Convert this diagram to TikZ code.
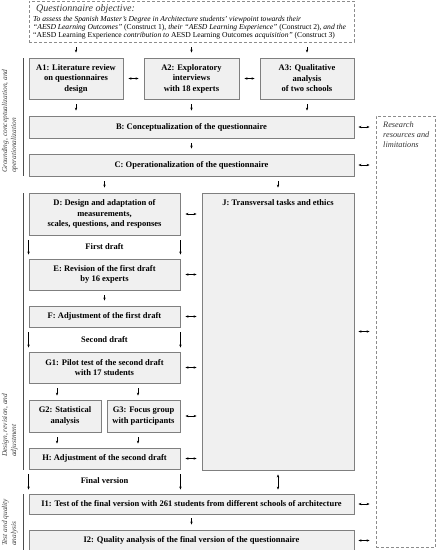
\documentclass[tikz,border=0pt]{standalone}
\usepackage{fontspec}
\setmainfont{Liberation Serif}
\usetikzlibrary{calc,arrows.meta}
\definecolor{boxfill}{HTML}{F0F0F0}
\definecolor{boxline}{HTML}{7F7F7F}
\definecolor{dashline}{HTML}{8C8C8C}
\begin{document}
\begin{tikzpicture}[x=1pt,y=-1pt,
  box/.style={draw=boxline, fill=boxfill, line width=0.9pt, inner sep=1pt, align=center,
    font=\fontsize{8.5}{10.5}\selectfont\bfseries},
  lbl/.style={inner sep=0pt, font=\fontsize{8.5}{10.5}\selectfont\bfseries},
  dashbox/.style={draw=dashline, line width=0.8pt, dash pattern=on 3pt off 2pt, inner sep=0pt},
  objline/.style={inner sep=0pt, anchor=base west, font=\fontsize{7.6}{8}\selectfont},
  side/.style={inner sep=0pt, rotate=90, anchor=south west, align=left, text=black!75,
    font=\fontsize{7.4}{9}\selectfont\itshape},
  bracket/.style={draw=black!70, line width=0.6pt},
  arr/.style={-{Stealth[length=3pt,width=2.4pt]}, line width=0.5pt},
  dbl/.style={{Stealth[length=3pt,width=2.4pt]}-{Stealth[length=3pt,width=2.4pt]}, line width=0.5pt},
]
\useasboundingbox (0,0) rectangle (436,550);

% objective
\node[dashbox, minimum width=325pt, minimum height=41pt] (obj) at (191.5,21.5) {};
\node[inner sep=0pt, anchor=base west, font=\fontsize{10}{10}\selectfont\itshape, text=black!80] (objt) at (36,11.5) {Questionnaire objective:};
\node[objline] (obj1) at (33,21) {\itshape To assess the Spanish Master's Degree in Architecture students' viewpoint towards their};
\node[objline] (obj2) at (33,29) {\itshape ``AESD Learning Outcomes'' \upshape(Construct 1), \itshape their ``AESD Learning Experience'' \upshape(Construct 2), \itshape and the};
\node[objline] (obj3) at (33,37) {\upshape ``AESD Learning Experience \itshape contribution to \upshape AESD Learning Outcomes \itshape acquisition'' \upshape(Construct 3)};

% research box
\node[dashbox, minimum width=59.5pt, minimum height=431pt] (res) at (405.75,331.5) {};
\node[inner sep=0pt, anchor=north west, align=left, font=\fontsize{8.3}{10}\selectfont\itshape, text=black!80] (rest) at (383,122) {Research\\resources and\\limitations};

% boxes
\node[box, minimum width=94pt, minimum height=41pt] (A1) at (76,78.5) {A1: Literature review\\on questionnaires\\design};
\node[box, minimum width=95pt, minimum height=41pt] (A2) at (191.5,78.5) {A2: Exploratory\\interviews\\with 18 experts};
\node[box, minimum width=94pt, minimum height=41pt] (A3) at (307,78.5) {A3: Qualitative\\analysis\\of two schools};
\node[box, minimum width=325pt, minimum height=22pt] (B) at (191.5,127) {B: Conceptualization of the questionnaire};
\node[box, minimum width=325pt, minimum height=22pt] (C) at (191.5,165) {C: Operationalization of the questionnaire};
\node[box, minimum width=151pt, minimum height=42pt] (D) at (104.5,214) {D: Design and adaptation of\\measurements,\\scales, questions, and responses};
\node[box, minimum width=152pt, minimum height=277pt,
  label={[lbl, anchor=north, yshift=-7pt]north:{J: Transversal tasks and ethics}}] (J) at (278,331.5) {};
\node[lbl] (fd) at (104.5,247) {First draft};
\node[box, minimum width=151pt, minimum height=31pt] (E) at (104.5,274.5) {E: Revision of the first draft\\by 16 experts};
\node[box, minimum width=151pt, minimum height=21pt] (F) at (104.5,316.5) {F: Adjustment of the first draft};
\node[lbl] (sd) at (104.5,340) {Second draft};
\node[box, minimum width=151pt, minimum height=31pt] (G1) at (104.5,367.5) {G1: Pilot test of the second draft\\with 17 students};
\node[box, minimum width=72pt, minimum height=32pt] (G2) at (65,416) {G2: Statistical\\analysis};
\node[box, minimum width=73pt, minimum height=32pt] (G3) at (143.5,416) {G3: Focus group\\with participants};
\node[box, minimum width=151pt, minimum height=21pt] (H) at (104.5,458.5) {H: Adjustment of the second draft};
\node[lbl] (fv) at (104.5,481) {Final version};
\node[box, minimum width=325pt, minimum height=20pt] (I1) at (191.5,504) {I1: Test of the final version with 261 students from different schools of architecture};
\node[box, minimum width=325pt, minimum height=21pt] (I2) at (191.5,540.5) {I2: Quality analysis of the final version of the questionnaire};

% side labels
\draw[bracket] (23,58) -- (23,176);
\draw[bracket] (23,193) -- (23,470);
\draw[bracket] (23,494) -- (23,550);
\node[side] (s1) at (18,173) {Grounding, conceptualization, and\\operationalization};
\node[side] (s2) at (18,457) {Design, revision, and\\adjustment};
\node[side] (s3) at (18,546) {Test and quality\\analysis};

% helper coordinates for G2/G3 arrows
\coordinate (g2t) at ($(G2.north)+(-8,0)$);
\coordinate (g3t) at ($(G3.north)+(-5.5,0)$);
\coordinate (g2b) at ($(G2.south)+(-8,0)$);
\coordinate (g3b) at ($(G3.south)+(-5.5,0)$);

% arrows from objective
\draw[arr, shorten <=5pt, shorten >=5pt] (A1.north |- obj.south) -- (A1.north);
\draw[arr, shorten <=5pt, shorten >=5pt] (A2.north |- obj.south) -- (A2.north);
\draw[arr, shorten <=5pt, shorten >=5pt] (A3.north |- obj.south) -- (A3.north);
% between A
\draw[dbl, shorten <=5pt, shorten >=5pt] (A1.east) -- (A2.west);
\draw[dbl, shorten <=5pt, shorten >=5pt] (A2.east) -- (A3.west);
% A to B
\draw[arr, shorten <=5pt, shorten >=5pt] (A1.south) -- (A1.south |- B.north);
\draw[arr, shorten <=5pt, shorten >=5pt] (A2.south) -- (A2.south |- B.north);
\draw[arr, shorten <=5pt, shorten >=5pt] (A3.south) -- (A3.south |- B.north);
% B to C
\draw[arr, shorten <=5pt, shorten >=5pt] (B.south) -- (C.north);
% C to D, J
\draw[arr, shorten <=5pt, shorten >=5pt] (D.north |- C.south) -- (D.north);
\draw[arr, shorten <=5pt, shorten >=5pt] (J.north |- C.south) -- (J.north);
% to research box
\draw[dbl, shorten <=4pt, shorten >=6pt] (B.east) -- (B.east -| res.west);
\draw[dbl, shorten <=4pt, shorten >=6pt] (C.east) -- (C.east -| res.west);
\draw[dbl, shorten <=4pt, shorten >=6pt] (J.east) -- (J.east -| res.west);
\draw[dbl, shorten <=4pt, shorten >=6pt] (I1.east) -- (I1.east -| res.west);
\draw[dbl, shorten <=4pt, shorten >=6pt] (I2.east) -- (I2.east -| res.west);
% to J
\foreach \n in {D,E,F,G1,H}
  \draw[dbl, shorten <=5pt, shorten >=5pt] (\n.east) -- (\n.east -| J.west);
\draw[dbl, shorten <=5pt, shorten >=5pt] (G3.east) -- (G3.east -| J.west);
% drafts
\draw[arr, shorten <=5pt, shorten >=4pt] (D.south west) -- (E.north west);
\draw[arr, shorten <=5pt, shorten >=4pt] (D.south east) -- (E.north east);
\draw[arr, shorten <=5pt, shorten >=5pt] (E.south) -- (F.north);
\draw[arr, shorten <=5pt, shorten >=4pt] (F.south west) -- (G1.north west);
\draw[arr, shorten <=5pt, shorten >=4pt] (F.south east) -- (G1.north east);
\draw[arr, shorten <=5pt, shorten >=4pt] (g2t |- G1.south) -- (g2t);
\draw[arr, shorten <=5pt, shorten >=4pt] (g3t |- G1.south) -- (g3t);
\draw[arr, shorten <=5pt, shorten >=4pt] (g2b) -- (g2b |- H.north);
\draw[arr, shorten <=5pt, shorten >=4pt] (g3b) -- (g3b |- H.north);
\draw[arr, shorten <=5pt, shorten >=4pt] (H.south west) -- (H.south west |- I1.north);
\draw[arr, shorten <=5pt, shorten >=4pt] (H.south east) -- (H.south east |- I1.north);
\draw[dbl, shorten <=4pt, shorten >=4pt] (J.south) -- (J.south |- I1.north);
\draw[arr, shorten <=4pt, shorten >=5pt] (I1.south) -- (I2.north);
\end{tikzpicture}
\end{document}
